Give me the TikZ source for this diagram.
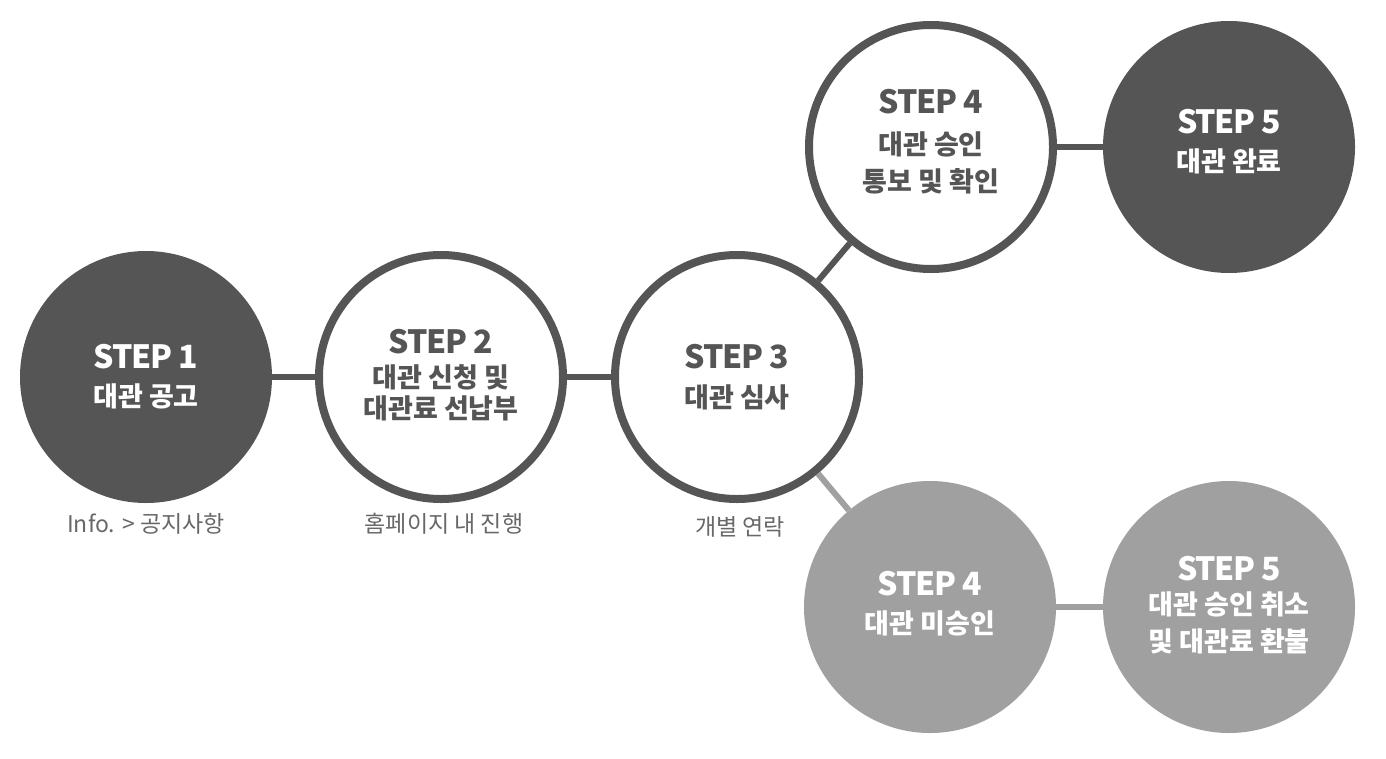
\documentclass[tikz,border=0pt]{standalone}
\usepackage{fontspec}
\setmainfont{Noto Sans CJK KR}
\newfontfamily\stepff{Noto Sans CJK KR}[LetterSpace=-4]
\definecolor{dk}{HTML}{555555}
\definecolor{gr}{HTML}{A0A0A0}
\definecolor{lb}{HTML}{686868}
\newcommand\stp[1]{{\stepff\bfseries\fontsize{32}{35}\selectfont #1}}
\newcommand\liftby[1]{\rule[-#1]{0pt}{0pt}}
\begin{document}
\begin{tikzpicture}[x=1pt,y=-1pt,
  base/.style={circle, inner sep=0pt, align=center, font=\bfseries\fontsize{27}{35}\selectfont},
  darkc/.style={base, fill=dk, text=white, minimum size=252pt},
  ringc/.style={base, draw=dk, line width=8pt, fill=white, text=dk, minimum size=244pt},
  grayc/.style={base, fill=gr, text=white, minimum size=252pt},
  link/.style={line width=6pt, draw=dk},
  glink/.style={line width=6pt, draw=gr},
  note/.style={text=lb, inner sep=0pt, font=\fontsize{23}{26}\selectfont}]
\useasboundingbox[fill=white] (0,0) rectangle (1386,758);

\node[darkc] (s1) at (146,377) {\stp{STEP 1}\\[3pt]대관 공고};
\node[ringc] (s2) at (441,377) {\stp{STEP 2}\\[-1pt]대관 신청 및\\[-4pt]대관료 선납부\liftby{6pt}};
\node[ringc] (s3) at (737,377) {\stp{STEP 3}\\[4pt]대관 심사};
\node[ringc] (s4a) at (931,147) {\stp{STEP 4}\\[6pt]대관 승인\\[2pt]통보 및 확인\liftby{13pt}};
\node[darkc] (s5a) at (1229,147) {\stp{STEP 5}\\[3pt]대관 완료\liftby{13pt}};
\node[grayc] (s4b) at (930,607) {\stp{STEP 4}\\[3pt]대관 미승인\liftby{9pt}};
\node[grayc] (s5b) at (1229,607) {\stp{STEP 5}\\[-1pt]대관 승인 취소\\[2pt]및 대관료 환불\liftby{7pt}};

\node[note] (n1) at (146,524) {Info. > 공지사항};
\node[note] (n2) at (444,524) {홈페이지 내 진행};
\node[note] (n3) at (740,527) {개별 연락};

\draw[link] (s1) -- (s2);
\draw[link] (s2) -- (s3);
\draw[link] (s3) -- (s4a);
\draw[link] (s4a) -- (s5a);
\draw[glink] (s3) -- (s4b);
\draw[glink] (s4b) -- (s5b);
\end{tikzpicture}
\end{document}
